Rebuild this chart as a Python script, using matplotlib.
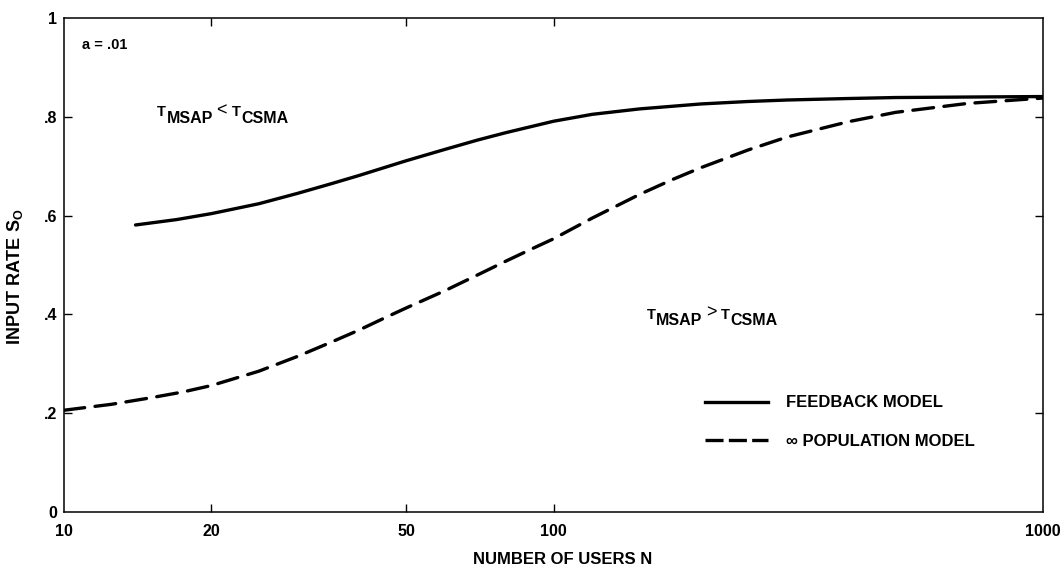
import matplotlib
matplotlib.use("Agg")
import matplotlib.pyplot as plt
from matplotlib.lines import Line2D
from matplotlib.ticker import NullLocator

plt.rcParams["font.family"] = ["Liberation Sans", "DejaVu Sans"]
plt.rcParams["mathtext.default"] = "regular"
plt.rcParams["lines.scale_dashes"] = False

# Feedback model: input rate S0 versus number of users N (a = .01)
users_feedback = [14, 17, 20, 25, 30, 35, 40, 50, 60, 70, 80, 100, 120, 150,
                  200, 250, 300, 400, 500, 700, 1000]
rate_feedback = [0.581, 0.592, 0.604, 0.624, 0.645, 0.664, 0.681, 0.711,
                 0.734, 0.753, 0.768, 0.791, 0.805, 0.816, 0.826, 0.831,
                 0.834, 0.837, 0.839, 0.840, 0.841]

# Infinite population model
users_infinite = [10, 12.5, 15, 17.5, 20, 25, 30, 35, 40, 45, 50, 60, 70, 80,
                  90, 100, 120, 150, 175, 200, 250, 300, 400, 500, 700, 1000]
rate_infinite = [0.206, 0.218, 0.231, 0.243, 0.256, 0.285, 0.315, 0.343,
                 0.368, 0.392, 0.413, 0.448, 0.480, 0.508, 0.532, 0.553,
                 0.595, 0.643, 0.673, 0.697, 0.733, 0.759, 0.790, 0.809,
                 0.827, 0.838]

x_ticks = [10, 20, 50, 100, 1000]
x_tick_labels = ["10", "20", "50", "100", "1000"]
y_ticks = [0, 0.2, 0.4, 0.6, 0.8, 1.0]
y_tick_labels = ["0", ".2", ".4", ".6", ".8", "1"]

fig = plt.figure(figsize=(10.63, 5.67), dpi=100)
ax = fig.add_axes([64 / 1063, 55 / 567, 979 / 1063, 494 / 567])

ax.plot(users_feedback, rate_feedback, color="black", lw=2.4,
        solid_capstyle="round", solid_joinstyle="round")
ax.plot(users_infinite, rate_infinite, color="black", lw=2.4,
        dashes=(15, 7.5), dash_capstyle="round", dash_joinstyle="round")

ax.set_xscale("log")
ax.set_xlim(10, 1000)
ax.set_ylim(0, 1)
ax.set_xticks(x_ticks)
ax.set_xticklabels(x_tick_labels)
ax.xaxis.set_minor_locator(NullLocator())
ax.set_yticks(y_ticks)
ax.set_yticklabels(y_tick_labels)

for s in ax.spines.values():
    s.set_linewidth(1.1)

ax.tick_params(axis="both", direction="in", length=6, width=1.0,
               top=True, right=True, labelsize=11.5)
ax.tick_params(axis="x", pad=9)
ax.tick_params(axis="y", pad=5)
# no inward tick marks at the axis ends
for t in ax.xaxis.get_major_ticks():
    if t.get_loc() in (10, 1000):
        t.tick1line.set_visible(False)
        t.tick2line.set_visible(False)
for t in ax.yaxis.get_major_ticks():
    if t.get_loc() in (0, 1.0):
        t.tick1line.set_visible(False)
        t.tick2line.set_visible(False)
for lbl in ax.get_xticklabels() + ax.get_yticklabels():
    lbl.set_fontweight("bold")

fig.text(15 / 1063, 1 - 277 / 567, "INPUT RATE S$_{O}$", rotation=90,
         ha="center", va="center", fontsize=13, fontweight="bold")
fig.text(563 / 1063, 1 - 560 / 567, "NUMBER OF USERS N",
         ha="center", va="center", fontsize=12, fontweight="bold")

ax.text(0.018, 0.945, "a = .01", transform=ax.transAxes, fontsize=10.5,
        fontweight="bold", ha="left", va="center")


def region_label(x, y, relation):
    """Draw T_MSAP <relation> T_CSMA with lowered subscripts."""
    pieces = [("T", 0, 10.5), ("MSAP", -4.5, 11.5), (relation, 0, 13),
              ("T", 0, 10.5), ("CSMA", -4.5, 11.5)]
    gaps = [0, 0.5, 2.5, 3.5, 0.5]
    first = ax.text(x, y, pieces[0][0], transform=ax.transAxes,
                    fontsize=pieces[0][2], fontweight="bold",
                    ha="left", va="bottom")
    prev, prev_dy = first, 0
    for (txt, dy, size), gap in zip(pieces[1:], gaps[1:]):
        weight = "normal" if txt in "<>" else "bold"
        prev = ax.annotate(txt, xy=(1, 0), xycoords=prev,
                           xytext=(gap, dy - prev_dy), textcoords="offset points",
                           fontsize=size, ha="left", va="bottom",
                           fontweight=weight)
        prev_dy = dy


region_label(0.095, 0.795, "<")
region_label(0.595, 0.385, ">")

legend_handles = [
    Line2D([], [], color="black", lw=2.4),
    Line2D([], [], color="black", lw=2.4, dashes=(13, 3.8)),
]
legend_labels = ["FEEDBACK MODEL", "\u221e POPULATION MODEL"]
ax.legend(legend_handles, legend_labels, loc="upper left",
          bbox_to_anchor=(0.655, 0.236), frameon=False,
          handlelength=3.78, handletextpad=1.08,
          labelspacing=1.4, borderpad=0, borderaxespad=0,
          prop={"weight": "bold", "size": 12})

fig.savefig("out.png", dpi=100)
